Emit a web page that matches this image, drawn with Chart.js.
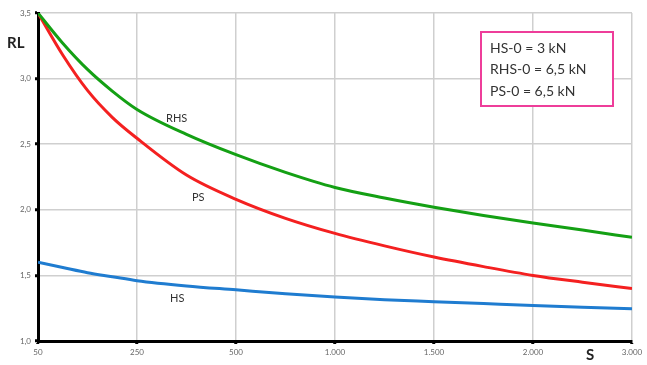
<!DOCTYPE html>
<html lang="de">
<head>
    <meta charset="UTF-8">
    <title>RL / S</title>
    <script src="https://cdn.jsdelivr.net/npm/chart.js"></script>
    <style>
        html, body { margin: 0; padding: 0; background: #fff; }
        #wrap { width: 647px; height: 365px; position: relative; }
    </style>
</head>
<body>
    <div id="wrap"><canvas id="rlChart" width="647" height="365"></canvas></div>

    <script>
        // Kategorien (S), gleichabständig auf der Achse
        const sLabels = ['50', '250', '500', '1.000', '1.500', '2.000', '3.000'];

        // Ablesestellen auf der Achse (0 = 50, 6 = 3.000)
        const readPos = [0, 0.25, 0.5, 0.75, 1, 1.5, 2, 2.5, 3, 3.5, 4, 4.5, 5, 5.5, 6];

        // Werte RL
        const rhsValues = [3.50, 3.27, 3.07, 2.905, 2.765, 2.575, 2.42, 2.285, 2.17, 2.09, 2.02, 1.957, 1.90, 1.846, 1.79];
        const psValues  = [3.50, 3.18, 2.91, 2.705, 2.545, 2.265, 2.08, 1.935, 1.82, 1.725, 1.64, 1.567, 1.50, 1.448, 1.40];
        const hsValues  = [1.60, 1.56, 1.52, 1.49, 1.46, 1.42, 1.39, 1.36, 1.335, 1.315, 1.30, 1.285, 1.27, 1.257, 1.245];

        // Legende im Kasten
        const boxLines = ['HS-0 = 3 kN', 'RHS-0 = 6,5 kN', 'PS-0 = 6,5 kN'];

        const FONT = 'Lato, "Open Sans", sans-serif';

        const toPoints = vals => vals.map((v, i) => ({ x: readPos[i], y: v }));

        // Beschriftungen, Achsentitel und Kasten
        const annotations = {
            id: 'annotations',
            afterDatasetsDraw(chart) {
                const { ctx, chartArea: a } = chart;
                ctx.save();
                ctx.textBaseline = 'middle';

                // Kurvenbeschriftungen
                ctx.fillStyle = '#333';
                ctx.font = '11px ' + FONT;
                ctx.textAlign = 'left';
                ctx.fillText('RHS', a.left + 128, 118);
                ctx.fillText('PS', a.left + 154, 197);
                ctx.fillText('HS', a.left + 132, 298);

                // Achsentitel
                ctx.fillStyle = '#222';
                ctx.font = 'bold 15px ' + FONT;
                ctx.fillText('RL', 7, 43);
                ctx.fillText('S', 586, 355);

                // Kasten
                ctx.fillStyle = '#fff';
                ctx.fillRect(481, 32, 132, 74);
                ctx.strokeStyle = '#ee3d9a';
                ctx.lineWidth = 2;
                ctx.strokeRect(481, 32, 132, 74);
                ctx.fillStyle = '#333';
                ctx.font = '14px ' + FONT;
                boxLines.forEach((t, i) => ctx.fillText(t, 490, 48 + i * 21.5));
                ctx.restore();
            }
        };

        const lineStyle = { borderWidth: 3, pointRadius: 0, cubicInterpolationMode: 'monotone', fill: false };

        new Chart(document.getElementById('rlChart'), {
            type: 'line',
            data: {
                datasets: [
                    { label: 'RHS', data: toPoints(rhsValues), borderColor: '#14a014', ...lineStyle },
                    { label: 'PS', data: toPoints(psValues), borderColor: '#f42020', ...lineStyle },
                    { label: 'HS', data: toPoints(hsValues), borderColor: '#1f7cd0', ...lineStyle }
                ]
            },
            options: {
                responsive: false,
                animation: false,
                layout: { padding: { top: 13, right: 15, left: 0, bottom: 0 } },
                plugins: { legend: { display: false }, tooltip: { enabled: false } },
                scales: {
                    x: {
                        type: 'linear',
                        min: 0,
                        max: sLabels.length - 1,
                        grid: { color: '#cfcfcf', lineWidth: 1.5, tickLength: 3, tickColor: '#000', tickWidth: 3 },
                        border: { color: '#000', width: 3 },
                        ticks: {
                            stepSize: 1,
                            color: '#666',
                            font: { size: 8, family: FONT },
                            padding: 4,
                            maxRotation: 0,
                            autoSkip: false,
                            callback: v => sLabels[v]
                        },
                        afterFit(s) { s.height = 24; }
                    },
                    y: {
                        min: 1,
                        max: 3.5,
                        grid: { color: '#cfcfcf', lineWidth: 1.5, tickLength: 3, tickColor: '#000', tickWidth: 3 },
                        border: { color: '#000', width: 3 },
                        ticks: {
                            stepSize: 0.5,
                            color: '#666',
                            font: { size: 8, family: FONT },
                            padding: 4,
                            callback: v => v.toFixed(1).replace('.', ',')
                        },
                        afterFit(s) { s.width = 38; }
                    }
                }
            },
            plugins: [annotations]
        });
    </script>
</body>
</html>
